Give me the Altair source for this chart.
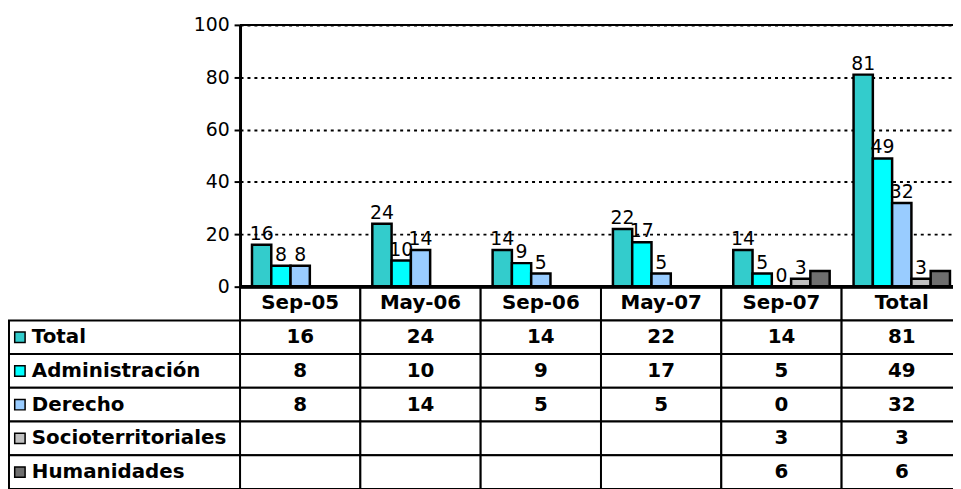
import altair as alt
import pandas as pd

categories = ["Sep-05", "May-06", "Sep-06", "May-07", "Sep-07", "Total"]
series = ["Total", "Administración", "Derecho", "Socioterritoriales", "Humanidades"]
total = [16, 24, 14, 22, 14, 81]
administracion = [8, 10, 9, 17, 5, 49]
derecho = [8, 14, 5, 5, 0, 32]
socioterritoriales = [None, None, None, None, 3, 3]
humanidades = [None, None, None, None, 6, 6]
colors = ["#33CCCC", "#00FFFF", "#99CCFF", "#C0C0C0", "#6E6E6E"]
labelled = ["Total", "Administración", "Derecho", "Socioterritoriales"]
y_ticks = [0, 20, 40, 60, 80, 100]

values = [total, administracion, derecho, socioterritoriales, humanidades]
rows = []
for s, vals in zip(series, values):
    for c, v in zip(categories, vals):
        rows.append({"category": c, "series": s, "row": s, "value": v,
                     "label": "" if v is None else str(v)})
long_df = pd.DataFrame(rows)
bars_df = long_df.dropna(subset=["value"]).copy()
lab_df = bars_df[bars_df["series"].isin(labelled)].copy()

row_names = ["header"] + series
header_df = pd.DataFrame({"category": categories, "row": "header", "label": categories})
cells_df = pd.concat([header_df, long_df[["category", "row", "label"]]], ignore_index=True)
side_df = pd.DataFrame({"row": series, "series": series})

FONT = "DejaVu Sans"
W, H = 719, 264
XR = 728
ROW_H = 34

xscale = alt.Scale(domain=categories, range=[0, XR], paddingInner=0, paddingOuter=0)
xenc = alt.X("category:N", scale=xscale, axis=None, sort=categories)
xoff = alt.XOffset("series:N", sort=series,
                   scale=alt.Scale(domain=series, paddingInner=0, paddingOuter=0.62))

bars = alt.Chart(bars_df).mark_bar(stroke="black", strokeWidth=2.5).encode(
    x=xenc,
    xOffset=xoff,
    y=alt.Y("value:Q", scale=alt.Scale(domain=[0, 100], nice=False),
            axis=alt.Axis(values=y_ticks, title=None, grid=True, gridColor="black",
                          gridDash=[3, 4], gridWidth=2, domainColor="black", domainWidth=3,
                          tickColor="black", tickSize=6, tickWidth=2, labelFontSize=19,
                          labelFont=FONT, labelColor="black", labelPadding=5)),
    color=alt.Color("series:N", scale=alt.Scale(domain=series, range=colors), legend=None),
)

bar_labels = alt.Chart(lab_df).mark_text(baseline="bottom", dy=-1, fontSize=19,
                                         font=FONT, color="black").encode(
    x=xenc,
    xOffset=xoff,
    y=alt.Y("value:Q"),
    text=alt.Text("value:Q", format="d"),
)

top_rule = alt.Chart(header_df).mark_rule(color="black", strokeWidth=2).encode(
    x=alt.value(0), x2=alt.value(XR), y=alt.value(0))
bottom_rule = alt.Chart(header_df).mark_rule(color="black", strokeWidth=3).encode(
    x=alt.value(0), x2=alt.value(XR), y=alt.value(H))

plot = alt.layer(bars, bar_labels, top_rule)

yrow = alt.Y("row:N", sort=row_names, axis=None,
             scale=alt.Scale(domain=row_names, range=[H, H + 6 * ROW_H],
                             paddingInner=0, paddingOuter=0))

cells = alt.Chart(cells_df).mark_rect(fill="white", stroke="black", strokeWidth=2).encode(
    x=xenc, y=yrow)
side_cells = alt.Chart(side_df).mark_rect(fill="white", stroke="black", strokeWidth=2).encode(
    x=alt.value(-233), x2=alt.value(0), y=yrow)
swatches = alt.Chart(side_df).mark_point(shape="square", filled=True, size=110,
                                         stroke="black", strokeWidth=1.5, opacity=1).encode(
    x=alt.value(-222), y=yrow,
    fill=alt.Color("series:N", scale=alt.Scale(domain=series, range=colors), legend=None))
side_text = alt.Chart(side_df).mark_text(align="left", fontSize=20, fontWeight="bold",
                                         font=FONT, color="black").encode(
    x=alt.value(-210), y=yrow, text="row:N")
cell_text = alt.Chart(cells_df).mark_text(fontSize=20, fontWeight="bold", font=FONT,
                                          color="black").encode(
    x=xenc, y=yrow, text="label:N")

table = alt.layer(cells, side_cells, swatches, side_text, cell_text, bottom_rule)

chart = alt.layer(plot, table).resolve_scale(y="independent").properties(
    width=W, height=H,
    autosize=alt.AutoSizeParams(type="none"),
    padding={"left": 234, "top": 15, "right": 0, "bottom": 202},
    background="white",
).configure_view(stroke=None)

chart.save("out.html", embed_options={"renderer": "svg", "actions": False})
